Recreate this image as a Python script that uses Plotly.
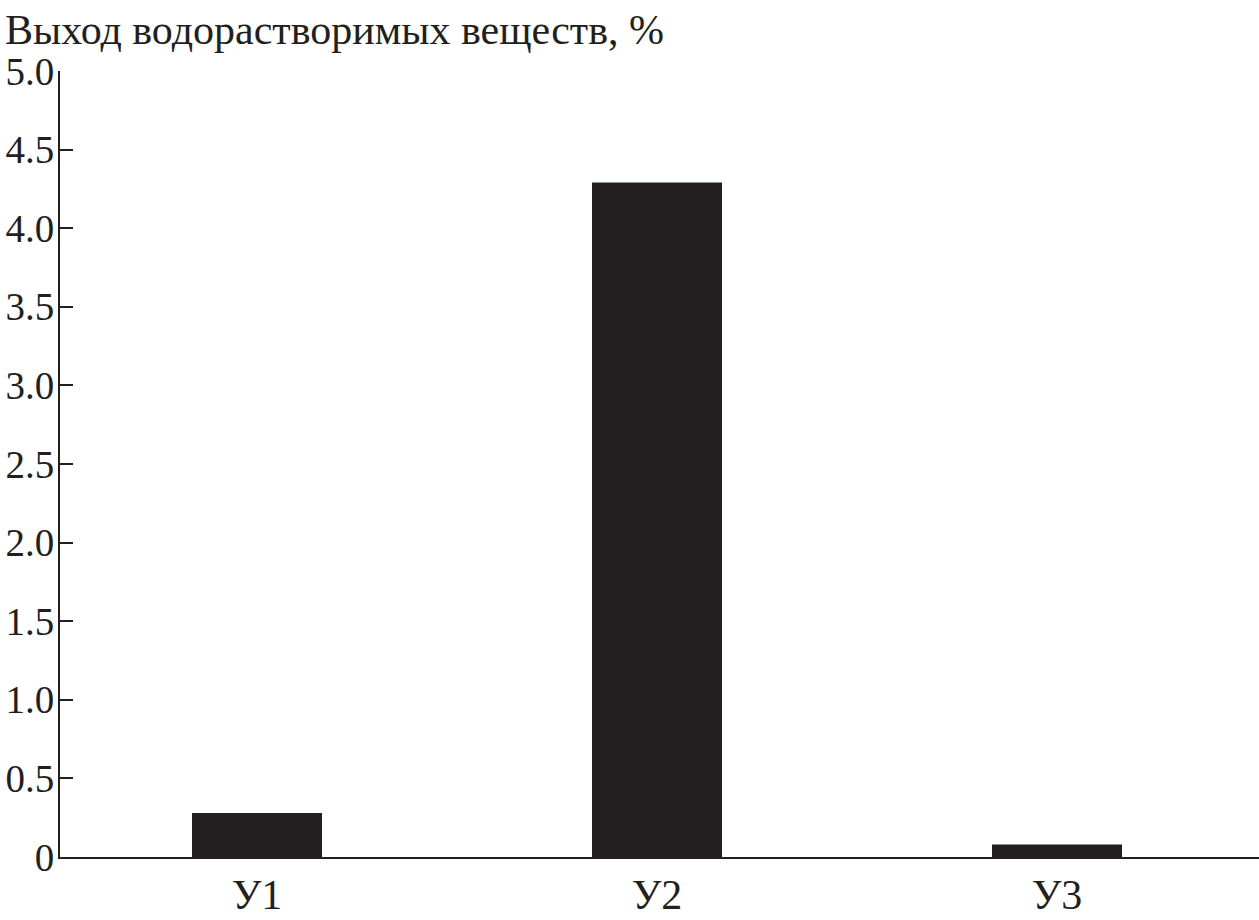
import plotly.graph_objects as go

categories = ["У1", "У2", "У3"]
values = [0.28, 4.29, 0.08]
ytick_vals = [0, 0.5, 1.0, 1.5, 2.0, 2.5, 3.0, 3.5, 4.0, 4.5, 5.0]
ytick_text = ["0", "0.5", "1.0", "1.5", "2.0", "2.5", "3.0", "3.5", "4.0", "4.5", "5.0"]
y_title = "Выход водорастворимых веществ, %"

FONT = "Liberation Serif"
INK = "#231f20"

fig = go.Figure(
    go.Bar(
        x=categories,
        y=values,
        width=0.325,
        marker=dict(color=INK, line=dict(width=0)),
    )
)

fig.update_layout(
    width=1259,
    height=920,
    margin=dict(l=60, r=0, t=71, b=63, autoexpand=False),
    paper_bgcolor="white",
    plot_bgcolor="white",
    showlegend=False,
    font=dict(family=FONT, size=40, color=INK),
    annotations=[
        dict(
            text=y_title,
            xref="paper", yref="paper",
            x=0, y=1,
            xanchor="left", yanchor="bottom",
            xshift=-57, yshift=16,
            showarrow=False,
            font=dict(family=FONT, size=42, color=INK),
        )
    ],
)

fig.update_xaxes(
    range=[-0.4925, 2.505],
    showline=True, linecolor=INK, linewidth=2,
    ticks="", showgrid=False, zeroline=False, automargin=False,
    tickfont=dict(family=FONT, size=42, color=INK),
)
fig.update_yaxes(
    range=[0, 5],
    tickvals=ytick_vals, ticktext=ytick_text,
    showline=True, linecolor=INK, linewidth=2,
    ticks="inside", ticklen=13, tickwidth=2, tickcolor=INK,
    showgrid=False, zeroline=False, automargin=False,
    tickfont=dict(family=FONT, size=39, color=INK),
    ticklabelstandoff=-4,
)

fig.write_html(
    "out.html",
    config={"displayModeBar": False},
    post_script="document.body.style.margin='0';document.body.style.overflow='hidden';",
)
